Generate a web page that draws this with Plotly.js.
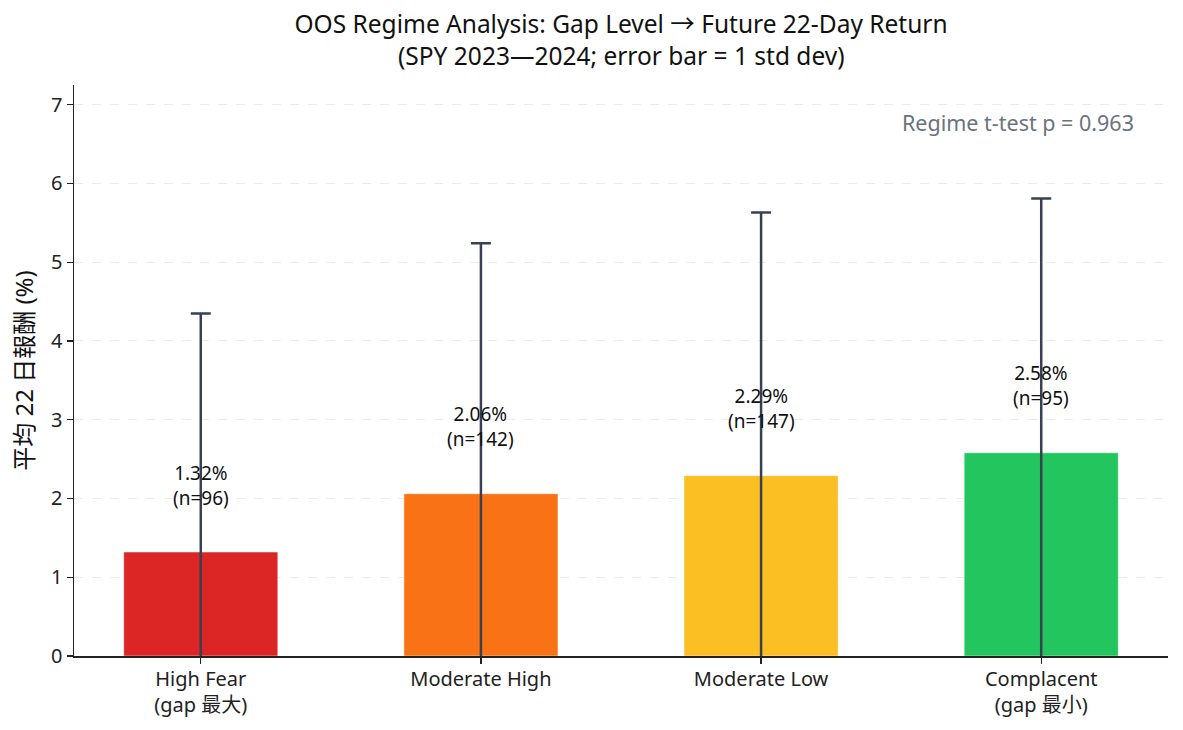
<!DOCTYPE html>
<html>
<head>
<meta charset="utf-8">
<script src="https://cdn.plot.ly/plotly-3.0.1.min.js"></script>
<style>
  html, body { margin: 0; padding: 0; background: #ffffff; }
  #chart { width: 1183px; height: 730px; }
</style>
</head>
<body>
<div id="chart"></div>
<script>
// Regime buckets by gap level (largest gap -> smallest gap)
const categories = ["High Fear<br>(gap 最大)", "Moderate High", "Moderate Low", "Complacent<br>(gap 最小)"];
const meanReturns = [1.32, 2.06, 2.29, 2.58];   // mean future 22-day return, %
const stdDevs = [3.03, 3.18, 3.34, 3.23];       // 1 standard deviation, %
const counts = [96, 142, 147, 95];              // observations per regime
const barColors = ["#dc2626", "#f97316", "#fbbf24", "#22c55e"];
const pValue = 0.963;

const titleMain = "OOS Regime Analysis: Gap Level → Future 22‑Day Return";
const titleSub = "(SPY 2023—2024; error bar = 1 std dev)";

const FONT = "'Noto Sans', 'Noto Sans CJK TC', sans-serif";
const positions = categories.map((_, i) => i);

const barTrace = {
  type: "bar",
  x: positions,
  y: meanReturns,
  width: 0.55,
  marker: { color: barColors, line: { color: "rgba(255,255,255,0.6)", width: 0.8 } },
  error_y: {
    type: "data",
    array: stdDevs,
    visible: true,
    color: "#374151",
    thickness: 2.5,
    width: 10
  },
  hoverinfo: "skip",
  showlegend: false
};

// value + sample-size labels above each bar
const labelAnnotations = positions.map((x, i) => ({
  x: x,
  y: meanReturns[i] + 0.5,
  xref: "x",
  yref: "y",
  yanchor: "bottom",
  xanchor: "center",
  showarrow: false,
  text: meanReturns[i].toFixed(2) + "%<br>(n=" + counts[i] + ")",
  font: { family: FONT, size: 19, color: "#111111" }
}));

const pAnnotation = {
  x: 0.971,
  y: 0.935,
  xref: "paper",
  yref: "paper",
  xanchor: "right",
  yanchor: "middle",
  showarrow: false,
  text: "Regime t‑test p = " + pValue.toFixed(3),
  font: { family: FONT, size: 21.5, color: "#6b7280" }
};

// second title line, placed just under the main title
const subtitleAnnotation = {
  x: 0.5,
  y: 1.0525,
  xref: "paper",
  yref: "paper",
  xanchor: "center",
  yanchor: "middle",
  showarrow: false,
  text: titleSub,
  font: { family: FONT, size: 24.5, color: "#111111" }
};

const layout = {
  width: 1183,
  height: 730,
  paper_bgcolor: "#ffffff",
  plot_bgcolor: "#ffffff",
  margin: { l: 74, r: 15, t: 85, b: 74 },
  font: { family: FONT, size: 20, color: "#222222" },
  title: {
    text: titleMain,
    font: { family: FONT, size: 24.5, color: "#111111" },
    x: 0.5,
    xref: "paper",
    xanchor: "center",
    y: 1 - 24.5 / 730,
    yref: "container",
    yanchor: "middle"
  },
  xaxis: {
    range: [-0.4525, 3.4525],
    tickmode: "array",
    tickvals: positions,
    ticktext: categories,
    showgrid: false,
    zeroline: false,
    showline: true,
    linecolor: "#222222",
    linewidth: 1.5,
    ticks: "outside",
    ticklen: 6,
    tickwidth: 1.3,
    tickcolor: "#222222",
    ticklabelstandoff: -2,
    tickfont: { family: FONT, size: 20, color: "#222222" }
  },
  yaxis: {
    range: [0, 7.25],
    tickmode: "array",
    tickvals: [0, 1, 2, 3, 4, 5, 6, 7],
    showgrid: true,
    gridcolor: "#ebebeb",
    griddash: "dash",
    gridwidth: 1,
    zeroline: false,
    showline: true,
    linecolor: "#222222",
    linewidth: 1.5,
    ticks: "outside",
    ticklen: 6,
    tickwidth: 1.3,
    tickcolor: "#222222",
    tickfont: { family: FONT, size: 20, color: "#222222" },
    title: {
      text: "平均 22 日報酬 (%)",
      font: { family: FONT, size: 24, color: "#111111" },
      standoff: 10
    }
  },
  annotations: labelAnnotations.concat([pAnnotation, subtitleAnnotation]),
  bargap: 0
};

Plotly.newPlot("chart", [barTrace], layout, { displayModeBar: false, staticPlot: true });
</script>
</body>
</html>
